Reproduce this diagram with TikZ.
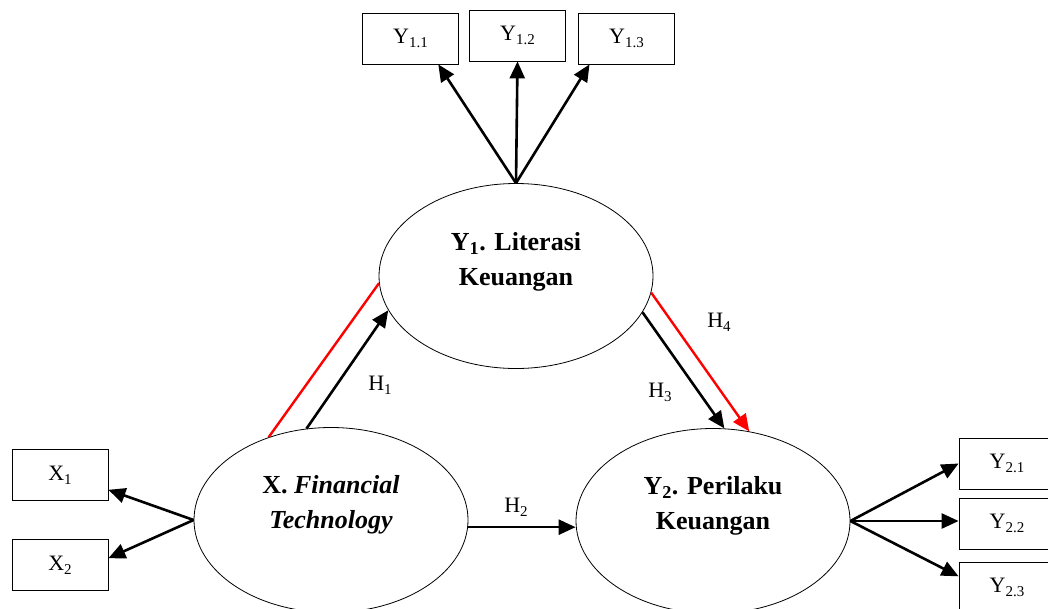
\documentclass[tikz,border=0pt]{standalone}
\usepackage{fontspec}
\setmainfont{Liberation Serif}
\usetikzlibrary{shapes.geometric,arrows.meta}

\newcommand{\idx}[1]{\raisebox{-4pt}{\fontsize{15}{15}\selectfont #1}}

\begin{document}
\begin{tikzpicture}[x=1pt,y=-1pt,
    latent/.style={draw,ellipse,line width=.8pt,minimum width=274pt,minimum height=185pt,inner sep=0pt},
    indic/.style={draw,rectangle,line width=.8pt,minimum width=96pt,minimum height=51pt,inner sep=0pt,font=\fontsize{22}{26}\selectfont},
    bigtext/.style={align=center,font=\bfseries\fontsize{26}{35}\selectfont},
    hyp/.style={font=\fontsize{22}{26}\selectfont},
    arr/.style={line width=2.6pt,-{Triangle[length=17pt,width=15pt]}}]
        \useasboundingbox (0,0) rectangle (1048,608);
        \clip (0,0) rectangle (1048,608);

        % constructs
        \node[latent] (y1) at (516,276) {};
        \node[latent] (x) at (331,520) {};
        \node[latent] (y2) at (713,521) {};
        \node[bigtext] (y1t) at ([yshift=14pt]y1.center) {Y\textsubscript{1}. Literasi\\Keuangan};
        \node[bigtext] (xt) at ([yshift=15pt]x.center) {X. \textit{Financial}\\\textit{Technology}};
        \node[bigtext] (y2t) at ([yshift=15pt]y2.center) {Y\textsubscript{2}. Perilaku\\Keuangan};

        % indicators
        \node[indic] (y11) at (410.5,38.5) {Y\idx{1.1}};
        \node[indic] (y12) at (517.5,35.5) {Y\idx{1.2}};
        \node[indic] (y13) at (626.5,38.5) {Y\idx{1.3}};
        \node[indic] (x1) at (60,475) {X\idx{1}};
        \node[indic] (x2) at (60,565) {X\idx{2}};
        \node[indic] (y21) at (1007,463.5) {Y\idx{2.1}};
        \node[indic] (y22) at (1007,523.5) {Y\idx{2.2}};
        \node[indic] (y23) at (1007,587.5) {Y\idx{2.3}};

        \foreach \b/\a in {y11/-43,y12/-90,y13/-145}{
          \draw[arr] (y1.north) -- (\b.\a);
        }
        \foreach \b/\a in {x1/-17,x2/8}{
          \draw[arr] (x.west) -- (\b.\a);
        }
        \draw[arr] (y2.east) -- (y21.west);
        \draw[arr] (y2.east) -- (y2.east -| y22.west);
        \draw[arr] (y2.east) -- (y23.167);

        % hypotheses
        \draw[arr] (x.105) -- (y1.195);
        \draw[red,line width=2.4pt] (x.127) -- (y1.183);
        \draw[arr] (x.-3) -- (x.-3 -| y2.west);
        \draw[arr] (y1.-16) -- (y2.83);
        \draw[arr,red,line width=2.4pt] (y1.-7) -- (y2.68);

        \node[hyp] (h1) at (380,385) {H\idx{1}};
        \node[hyp] (h2) at (516,507) {H\idx{2}};
        \node[hyp] (h3) at (660,392) {H\idx{3}};
        \node[hyp] (h4) at (719,322) {H\idx{4}};

      \end{tikzpicture}
\end{document}
